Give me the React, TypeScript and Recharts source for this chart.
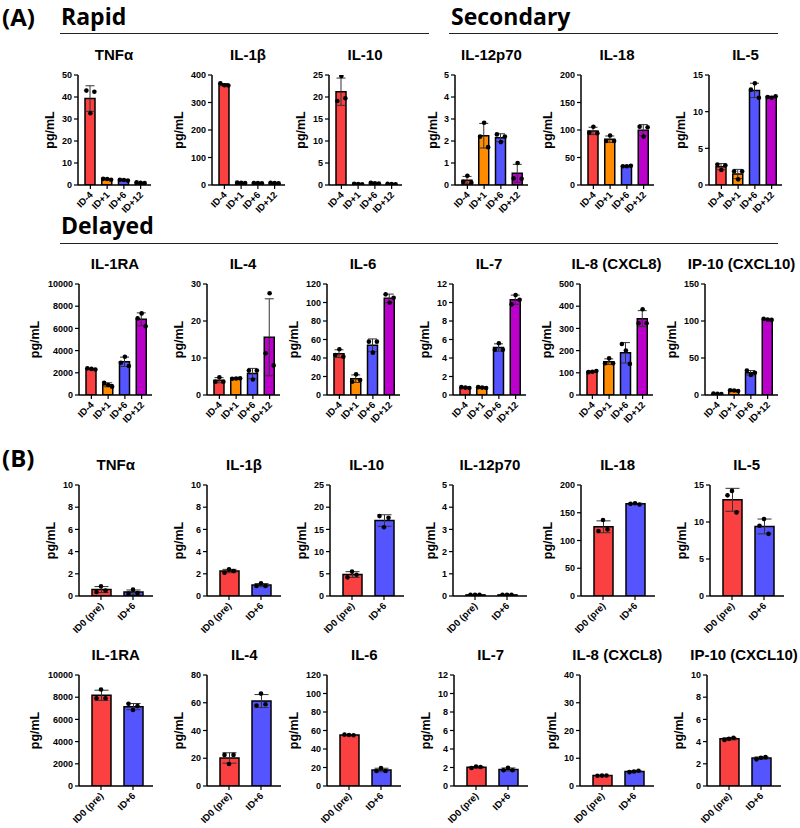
import React from 'react';
import { ComposedChart, Bar, Line, XAxis, YAxis, ErrorBar, Cell } from 'recharts';

// ---------- categories & colours ----------
const groupsA = ['ID-4', 'ID+1', 'ID+6', 'ID+12'];
const groupsB = ['ID0 (pre)', 'ID+6'];
const colorsA = ['#FA4040', '#FF8C00', '#5555FF', '#BB00CC'];
const colorsB = ['#FA4040', '#5555FF'];

// ---------- (A) Rapid / Secondary ----------
const aTnfMean = [39.3, 2.6, 2.2, 1.0];
const aTnfSd = [5.8, 0.2, 0.2, 0.15];
const aTnfPts = [[42.9, 42.4, 32.6], [2.8, 2.4, 2.7], [2.4, 2.0, 2.3], [1.2, 0.9, 1.0]];
const aTnfTicks = [0, 10, 20, 30, 40, 50];

const aIl1bMean = [365, 8, 7, 7];
const aIl1bSd = [4, 0.5, 0.5, 1];
const aIl1bPts = [[370, 362, 363], [8.5, 7.5, 8], [7.5, 6.5, 7], [8, 6, 7]];
const aIl1bTicks = [0, 100, 200, 300, 400];

const aIl10Mean = [21.2, 0.22, 0.42, 0.2];
const aIl10Sd = [3.1, 0.08, 0.08, 0.05];
const aIl10Pts = [[19.1, 19.7, 24.8], [0.3, 0.15, 0.2], [0.5, 0.35, 0.4], [0.25, 0.15, 0.2]];
const aIl10Ticks = [0, 5, 10, 15, 20, 25];

const aIl12Mean = [0.22, 2.24, 2.15, 0.53];
const aIl12Sd = [0.17, 0.56, 0.18, 0.41];
const aIl12Pts = [[0.15, 0.1, 0.42], [2.2, 1.72, 2.83], [2.3, 2.2, 1.95], [0.3, 0.28, 1.0]];
const aIl12Ticks = [0, 1, 2, 3, 4, 5];

const aIl18Mean = [98.3, 83.3, 34.3, 99.7];
const aIl18Sd = [6.7, 5.8, 0.6, 10.1];
const aIl18Pts = [[95, 94, 106], [80, 80, 90], [34, 35, 34], [106, 105, 88]];
const aIl18Ticks = [0, 50, 100, 150, 200];

const aIl5Mean = [2.5, 1.5, 12.9, 12.0];
const aIl5Sd = [0.42, 0.63, 0.98, 0.1];
const aIl5Pts = [[2.8, 2.7, 2.05], [1.87, 1.86, 0.77], [13.0, 11.9, 13.86], [12.0, 12.1, 11.9]];
const aIl5Ticks = [0, 5, 10, 15];

// ---------- (A) Delayed ----------
const aIl1raMean = [2350, 920, 2990, 6820];
const aIl1raSd = [50, 180, 420, 580];
const aIl1raPts = [[2400, 2300, 2350], [1110, 750, 900], [2910, 2610, 3450], [6900, 6200, 7350]];
const aIl1raTicks = [0, 2000, 4000, 6000, 8000, 10000];

const aIl4Mean = [4.0, 4.45, 5.8, 15.6];
const aIl4Sd = [0.69, 0.06, 1.39, 10.4];
const aIl4Pts = [[3.6, 3.6, 4.8], [4.4, 4.5, 4.45], [6.6, 6.6, 4.2], [11.3, 8.0, 27.5]];
const aIl4Ticks = [0, 10, 20, 30];

const aIl6Mean = [44.7, 17.6, 53.7, 104.6];
const aIl6Sd = [4.2, 4.1, 6.9, 4.5];
const aIl6Pts = [[43.2, 41.4, 49.4], [14.4, 16.2, 22.3], [57.7, 57.7, 45.8], [108.8, 105.2, 99.8]];
const aIl6Ticks = [0, 20, 40, 60, 80, 100, 120];

const aIl7Mean = [0.8, 0.8, 5.13, 10.3];
const aIl7Sd = [0.05, 0.05, 0.4, 0.5];
const aIl7Pts = [[0.85, 0.75, 0.8], [0.85, 0.75, 0.8], [4.9, 4.9, 5.6], [9.8, 10.3, 10.8]];
const aIl7Ticks = [0, 2, 4, 6, 8, 10, 12];

const aIl8Mean = [105, 150, 190, 344];
const aIl8Sd = [2.5, 12.7, 46, 36];
const aIl8Pts = [[103, 108, 105], [143, 143, 165], [230, 140, 200], [323, 323, 386]];
const aIl8Ticks = [0, 100, 200, 300, 400, 500];

const aIp10Mean = [1.5, 6.0, 30.0, 102];
const aIp10Sd = [0.3, 0.5, 3, 0.8];
const aIp10Pts = [[1.8, 1.2, 1.5], [6.5, 5.5, 6.0], [33, 30, 27], [103, 101.5, 102]];
const aIp10Ticks = [0, 50, 100, 150];

// ---------- (B) ----------
const bTnfMean = [0.58, 0.35];
const bTnfSd = [0.27, 0.19];
const bTnfPts = [[0.36, 0.5, 0.87], [0.21, 0.27, 0.57]];
const bTnfTicks = [0, 2, 4, 6, 8, 10];

const bIl1bMean = [2.25, 0.98];
const bIl1bSd = [0.15, 0.14];
const bIl1bPts = [[2.1, 2.25, 2.4], [0.9, 0.9, 1.15]];
const bIl1bTicks = [0, 2, 4, 6, 8, 10];

const bIl10Mean = [4.83, 17.0];
const bIl10Sd = [0.65, 1.3];
const bIl10Pts = [[4.2, 4.8, 5.5], [18.0, 17.6, 15.5]];
const bIl10Ticks = [0, 5, 10, 15, 20, 25];

const bIl12Mean = [0.05, 0.05];
const bIl12Sd = [0, 0];
const bIl12Pts = [[0.05, 0.05, 0.05], [0.05, 0.05, 0.05]];
const bIl12Ticks = [0, 1, 2, 3, 4, 5];

const bIl18Mean = [124.7, 166];
const bIl18Sd = [10.7, 1];
const bIl18Pts = [[117, 120, 137], [166, 165, 167]];
const bIl18Ticks = [0, 50, 100, 150, 200];

const bIl5Mean = [13.0, 9.4];
const bIl5Sd = [1.55, 1.0];
const bIl5Pts = [[13.6, 11.3, 14.2], [9.5, 8.4, 10.4]];
const bIl5Ticks = [0, 5, 10, 15];

const bIl1raMean = [8170, 7150];
const bIl1raSd = [460, 280];
const bIl1raPts = [[7900, 7900, 8700], [7400, 7200, 6850]];
const bIl1raTicks = [0, 2000, 4000, 6000, 8000, 10000];

const bIl4Mean = [20.2, 61.2];
const bIl4Sd = [3.75, 4.7];
const bIl4Pts = [[22.4, 22.4, 15.9], [58, 58.9, 66.6]];
const bIl4Ticks = [0, 20, 40, 60, 80];

const bIl6Mean = [55.2, 17.3];
const bIl6Sd = [0.4, 1.9];
const bIl6Pts = [[55.5, 54.8, 55.2], [16.2, 16.2, 19.5]];
const bIl6Ticks = [0, 20, 40, 60, 80, 100, 120];

const bIl7Mean = [2.03, 1.79];
const bIl7Sd = [0.08, 0.16];
const bIl7Pts = [[1.95, 2.05, 2.1], [1.7, 1.7, 1.98]];
const bIl7Ticks = [0, 2, 4, 6, 8, 10, 12];

const bIl8Mean = [3.75, 5.23];
const bIl8Sd = [0.05, 0.25];
const bIl8Pts = [[3.7, 3.8, 3.75], [5.0, 5.5, 5.2]];
const bIl8Ticks = [0, 10, 20, 30, 40];

const bIp10Mean = [4.25, 2.52];
const bIp10Sd = [0.1, 0.1];
const bIp10Pts = [[4.15, 4.35, 4.25], [2.4, 2.6, 2.55]];
const bIp10Ticks = [0, 2, 4, 6, 8, 10];

// ---------- panel lists ----------
type P = { title: string; groups: string[]; colors: string[]; mean: number[]; sd: number[]; pts: number[][]; ticks: number[] };
const mk = (title: string, groups: string[], colors: string[], mean: number[], sd: number[], pts: number[][], ticks: number[]): P =>
  ({ title, groups, colors, mean, sd, pts, ticks });

const rowA1: P[] = [
  mk('TNFα', groupsA, colorsA, aTnfMean, aTnfSd, aTnfPts, aTnfTicks),
  mk('IL-1β', groupsA, colorsA, aIl1bMean, aIl1bSd, aIl1bPts, aIl1bTicks),
  mk('IL-10', groupsA, colorsA, aIl10Mean, aIl10Sd, aIl10Pts, aIl10Ticks),
  mk('IL-12p70', groupsA, colorsA, aIl12Mean, aIl12Sd, aIl12Pts, aIl12Ticks),
  mk('IL-18', groupsA, colorsA, aIl18Mean, aIl18Sd, aIl18Pts, aIl18Ticks),
  mk('IL-5', groupsA, colorsA, aIl5Mean, aIl5Sd, aIl5Pts, aIl5Ticks),
];
const rowA2: P[] = [
  mk('IL-1RA', groupsA, colorsA, aIl1raMean, aIl1raSd, aIl1raPts, aIl1raTicks),
  mk('IL-4', groupsA, colorsA, aIl4Mean, aIl4Sd, aIl4Pts, aIl4Ticks),
  mk('IL-6', groupsA, colorsA, aIl6Mean, aIl6Sd, aIl6Pts, aIl6Ticks),
  mk('IL-7', groupsA, colorsA, aIl7Mean, aIl7Sd, aIl7Pts, aIl7Ticks),
  mk('IL-8 (CXCL8)', groupsA, colorsA, aIl8Mean, aIl8Sd, aIl8Pts, aIl8Ticks),
  mk('IP-10 (CXCL10)', groupsA, colorsA, aIp10Mean, aIp10Sd, aIp10Pts, aIp10Ticks),
];
const rowB1: P[] = [
  mk('TNFα', groupsB, colorsB, bTnfMean, bTnfSd, bTnfPts, bTnfTicks),
  mk('IL-1β', groupsB, colorsB, bIl1bMean, bIl1bSd, bIl1bPts, bIl1bTicks),
  mk('IL-10', groupsB, colorsB, bIl10Mean, bIl10Sd, bIl10Pts, bIl10Ticks),
  mk('IL-12p70', groupsB, colorsB, bIl12Mean, bIl12Sd, bIl12Pts, bIl12Ticks),
  mk('IL-18', groupsB, colorsB, bIl18Mean, bIl18Sd, bIl18Pts, bIl18Ticks),
  mk('IL-5', groupsB, colorsB, bIl5Mean, bIl5Sd, bIl5Pts, bIl5Ticks),
];
const rowB2: P[] = [
  mk('IL-1RA', groupsB, colorsB, bIl1raMean, bIl1raSd, bIl1raPts, bIl1raTicks),
  mk('IL-4', groupsB, colorsB, bIl4Mean, bIl4Sd, bIl4Pts, bIl4Ticks),
  mk('IL-6', groupsB, colorsB, bIl6Mean, bIl6Sd, bIl6Pts, bIl6Ticks),
  mk('IL-7', groupsB, colorsB, bIl7Mean, bIl7Sd, bIl7Pts, bIl7Ticks),
  mk('IL-8 (CXCL8)', groupsB, colorsB, bIl8Mean, bIl8Sd, bIl8Pts, bIl8Ticks),
  mk('IP-10 (CXCL10)', groupsB, colorsB, bIp10Mean, bIp10Sd, bIp10Pts, bIp10Ticks),
];

// ---------- layout ----------
const rowPanels = [rowA1, rowA2, rowB1, rowB2];
const rowIsA = [true, true, false, false];
const rowPlotTop = [75, 284, 485, 675];
const rowPlotH = [110, 111, 111, 111];
const rowAxisX = [
  [77.5, 211.5, 328.5, 455, 580.5, 709],
  [78.5, 206.5, 326.5, 452.5, 580, 705],
  [78.7, 207, 329.7, 453, 580.7, 709.7],
  [78.7, 207.3, 327.3, 453.7, 580.3, 707],
];

const FONT = '"Liberation Sans", Arial, Helvetica, sans-serif';
const HFONT = '"Open Sans", "Noto Sans", sans-serif';
const JIT = [-1, 1, 0];

const XTick = (props: any) => {
  const { x, y, payload } = props;
  const ax = x + 3;
  const ay = y + 4.5;
  return (
    <text x={ax} y={ay} textAnchor="end" transform={`rotate(-45 ${ax} ${ay})`}
      fontSize={9.5} fontWeight={700} fontFamily={FONT} fill="#000">{payload.value}</text>
  );
};

const YLab = (props: any) => {
  const { cx, cy } = props;
  return (
    <text x={cx} y={cy} transform={`rotate(-90 ${cx} ${cy})`} textAnchor="middle" dominantBaseline="central"
      fontSize={12.5} fontWeight={700} fontFamily={FONT} fill="#000">pg/mL</text>
  );
};

function Panel({ p, axisX, plotTop, plotH, isA }: { p: P; axisX: number; plotTop: number; plotH: number; isA: boolean }) {
  const Yw = 60;
  const mTop = 6;
  const xH = 62;
  const plotW = isA ? 73 : 74;
  const W = Yw + plotW + 6;
  const H = mTop + plotH + xH;
  const data = p.groups.map((g, i) => ({
    name: g, mean: p.mean[i], sd: p.sd[i], p0: p.pts[i][0], p1: p.pts[i][1], p2: p.pts[i][2],
  }));
  const maxChars = Math.max(...p.ticks.map((t) => String(t).length));
  const labOff = 17 + 5.5 * maxChars;
  const jit = isA ? 4 : 4.5;
  const yMax = p.ticks[p.ticks.length - 1];
  return (
    <>
      <div style={{
        position: 'absolute', left: axisX + plotW / 2, top: plotTop - 28, transform: 'translateX(-50%)',
        whiteSpace: 'nowrap', fontFamily: FONT, fontWeight: 700, fontSize: 15, lineHeight: '15px', color: '#000',
      }}>{p.title}</div>
      <div style={{ position: 'absolute', left: axisX - Yw, top: plotTop - mTop }}>
        <ComposedChart width={W} height={H} data={data} margin={{ top: mTop, right: 6, left: 0, bottom: 0 }}>
          <XAxis dataKey="name" type="category" interval={0} height={xH}
            padding={isA ? { left: 4, right: 2 } : { left: 6, right: 4 }}
            axisLine={{ stroke: '#000', strokeWidth: 1.5 }} tickLine={{ stroke: '#000', strokeWidth: 1.2 }}
            tickSize={4} tickMargin={2} tick={<XTick />} />
          <YAxis type="number" width={Yw} domain={[0, yMax]} ticks={p.ticks} allowDataOverflow interval={0}
            axisLine={{ stroke: '#000', strokeWidth: 1.5 }} tickLine={{ stroke: '#000', strokeWidth: 1.2 }}
            tickSize={4} tickMargin={2}
            tick={{ fontSize: 9, fontWeight: 700, fill: '#000', fontFamily: FONT }}
            label={<YLab cx={Yw - labOff} cy={mTop + plotH / 2} />} />
          <Bar dataKey="mean" barSize={isA ? 10 : 19} stroke="#000" strokeWidth={1.5} isAnimationActive={false}>
            {data.map((d, i) => <Cell key={d.name} fill={p.colors[i]} />)}
            <ErrorBar dataKey="sd" direction="y" width={isA ? 4.5 : 7} stroke="#333" strokeWidth={1} />
          </Bar>
          {['p0', 'p1', 'p2'].map((k, j) => (
            <Line key={k} dataKey={k} stroke="none" isAnimationActive={false} legendType="none" activeDot={false}
              dot={(dp: any) => (
                <circle key={`${k}-${dp.index}`} cx={dp.cx + JIT[j] * jit} cy={dp.cy} r={2.3} fill="#000" />
              )} />
          ))}
        </ComposedChart>
      </div>
    </>
  );
}

const heading = (text: string, left: number, top: number, size: number, lh?: string) => (
  <div style={{
    position: 'absolute', left, top, fontFamily: HFONT, fontWeight: 700, fontSize: size,
    lineHeight: lh ?? `${size}px`, whiteSpace: 'nowrap', color: '#000',
  }}>{text}</div>
);
const rule = (left: number, top: number, width: number) => (
  <div style={{ position: 'absolute', left, top, width, height: 1.5, background: '#222' }} />
);

export default function App() {
  return (
    <div style={{ position: 'absolute', left: 0, top: 0, width: 800, height: 828, background: '#fff', overflow: 'hidden' }}>
      {heading('(A)', 2, 0, 24, 'normal')}
      {heading('Rapid', 61, 4.5, 23)}
      {heading('Secondary', 451, 4.5, 23)}
      {rule(60, 32.5, 369)}
      {rule(449, 32.5, 329)}
      {heading('Delayed', 61, 213.5, 23)}
      {rule(60, 242.5, 718)}
      {heading('(B)', 2, 441, 24, 'normal')}
      {rowPanels.map((row, r) =>
        row.map((p, c) => (
          <Panel key={`${r}-${c}`} p={p} axisX={rowAxisX[r][c]} plotTop={rowPlotTop[r]} plotH={rowPlotH[r]} isA={rowIsA[r]} />
        ))
      )}
    </div>
  );
}
